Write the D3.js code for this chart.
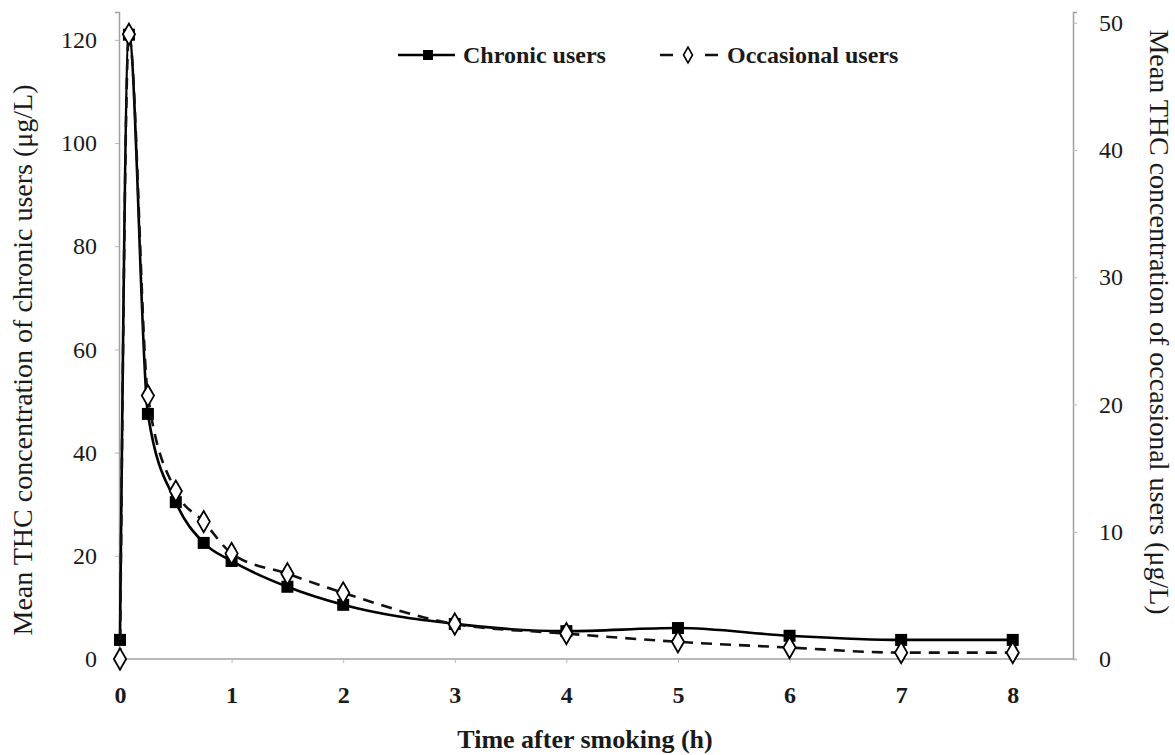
<!DOCTYPE html>
<html>
<head>
<meta charset="utf-8">
<script src="https://cdn.jsdelivr.net/npm/d3@7"></script>
<style>
body { margin: 0; background: #fff; }
svg text { font-family: "Liberation Serif", "DejaVu Serif", serif; fill: #1a1a1a; }
</style>
</head>
<body>
<svg class="chart"></svg>
<script>
// time points (h) and mean THC concentrations
var hours = [0, 0.08, 0.25, 0.5, 0.75, 1, 1.5, 2, 3, 4, 5, 6, 7, 8];
var chronic = [3.7, 121, 47.5, 30.4, 22.5, 19, 14, 10.5, 6.8, 5.4, 6.0, 4.5, 3.7, 3.7];
var occasional = [0, 49.1, 20.7, 13.2, 10.8, 8.3, 6.7, 5.2, 2.75, 2.0, 1.35, 0.9, 0.5, 0.5];

var xTicks = [0, 1, 2, 3, 4, 5, 6, 7, 8];
var leftTicks = [0, 20, 40, 60, 80, 100, 120];
var rightTicks = [0, 10, 20, 30, 40, 50];

var width = 1175, height = 755;
var plot = {left: 119, right: 1073, top: 12, bottom: 659};

var chart = d3.select(".chart")
	.attr("width", width)
	.attr("height", height);

var x = d3.scaleLinear().domain([0, 8.54]).range([120, plot.right]);
var yL = d3.scaleLinear().domain([0, 125.4]).range([plot.bottom, plot.top]);
var yR = d3.scaleLinear().domain([0, 50.85]).range([plot.bottom, plot.top]);

// axes
var xAxis = chart.append("g")
	.attr("transform", "translate(0," + plot.bottom + ")")
	.call(d3.axisBottom(x).tickValues(xTicks).tickSize(4).tickPadding(23).tickFormat(d3.format("d")));
var leftAxis = chart.append("g")
	.attr("transform", "translate(" + plot.left + ",0)")
	.call(d3.axisLeft(yL).tickValues(leftTicks).tickSize(4).tickPadding(18));
var rightAxis = chart.append("g")
	.attr("transform", "translate(" + plot.right + ",0)")
	.call(d3.axisRight(yR).tickValues(rightTicks).tickSize(4).tickPadding(22));

[xAxis, leftAxis, rightAxis].forEach(function(a) {
	a.select(".domain").attr("stroke", "#a0a0a0").attr("stroke-width", 1.5);
	a.selectAll(".tick line").attr("stroke", "#b8b8b8");
	a.selectAll(".tick text").style("font-size", "24px").style("fill", "#1a1a1a");
});
xAxis.selectAll(".tick text").style("font-weight", "bold");
xAxis.select(".domain").attr("d", "M" + plot.left + ",0H" + plot.right);

// axis titles
chart.append("text")
	.attr("x", 585).attr("y", 748)
	.attr("text-anchor", "middle")
	.style("font-size", "26px").style("font-weight", "bold")
	.text("Time after smoking (h)");

chart.append("text")
	.attr("transform", "translate(32,360) rotate(-90)")
	.attr("text-anchor", "middle")
	.style("font-size", "28px")
	.text("Mean THC concentration of chronic users (μg/L)");

chart.append("text")
	.attr("transform", "translate(1150,322) rotate(90)")
	.attr("text-anchor", "middle")
	.style("font-size", "28px")
	.text("Mean THC concentration of occasional users (μg/L)");

// series
var chronicData = hours.map(function(h, i) { return {h: h, v: chronic[i]}; });
var occData = hours.map(function(h, i) { return {h: h, v: occasional[i]}; });

var lineL = d3.line().x(function(d) { return x(d.h); }).y(function(d) { return yL(d.v); }).curve(d3.curveMonotoneX);
var lineR = d3.line().x(function(d) { return x(d.h); }).y(function(d) { return yR(d.v); }).curve(d3.curveMonotoneX);

chart.append("path")
	.datum(chronicData)
	.attr("d", lineL)
	.attr("fill", "none")
	.attr("stroke", "#000")
	.attr("stroke-width", 2.6);

chart.selectAll(".sq")
	.data(chronicData)
.enter().append("rect")
	.attr("class", "sq")
	.attr("x", function(d) { return x(d.h) - 6; })
	.attr("y", function(d) { return yL(d.v) - 6; })
	.attr("width", 12)
	.attr("height", 12)
	.attr("fill", "#000");

chart.append("path")
	.datum(occData)
	.attr("d", lineR)
	.attr("fill", "none")
	.attr("stroke", "#111")
	.attr("stroke-width", 2.6)
	.attr("stroke-dasharray", "11,8");

var diamond = d3.symbol().type(d3.symbolDiamond).size(130);
chart.selectAll(".dm")
	.data(occData)
.enter().append("path")
	.attr("class", "dm")
	.attr("d", diamond)
	.attr("transform", function(d) { return "translate(" + x(d.h) + "," + yR(d.v) + ")"; })
	.attr("fill", "#fff")
	.attr("stroke", "#000")
	.attr("stroke-width", 1.8);

// legend
var leg = chart.append("g").attr("transform", "translate(0,55)");
leg.append("line").attr("x1", 398).attr("x2", 455).attr("y1", 0).attr("y2", 0)
	.attr("stroke", "#000").attr("stroke-width", 2.6);
leg.append("rect").attr("x", 423).attr("y", -5).attr("width", 10).attr("height", 10).attr("fill", "#000");
leg.append("text").attr("x", 463).attr("y", 8).style("font-size", "24px").style("font-weight", "bold")
	.text("Chronic users");

leg.append("line").attr("x1", 660).attr("x2", 718).attr("y1", 0).attr("y2", 0)
	.attr("stroke", "#111").attr("stroke-width", 2.6).attr("stroke-dasharray", "13,32");
leg.append("path").attr("d", d3.symbol().type(d3.symbolDiamond).size(70)).attr("transform", "translate(688,0)")
	.attr("fill", "#fff").attr("stroke", "#000").attr("stroke-width", 1.6);
leg.append("text").attr("x", 727).attr("y", 8).style("font-size", "24px").style("font-weight", "bold")
	.text("Occasional users");
</script>
</body>
</html>
